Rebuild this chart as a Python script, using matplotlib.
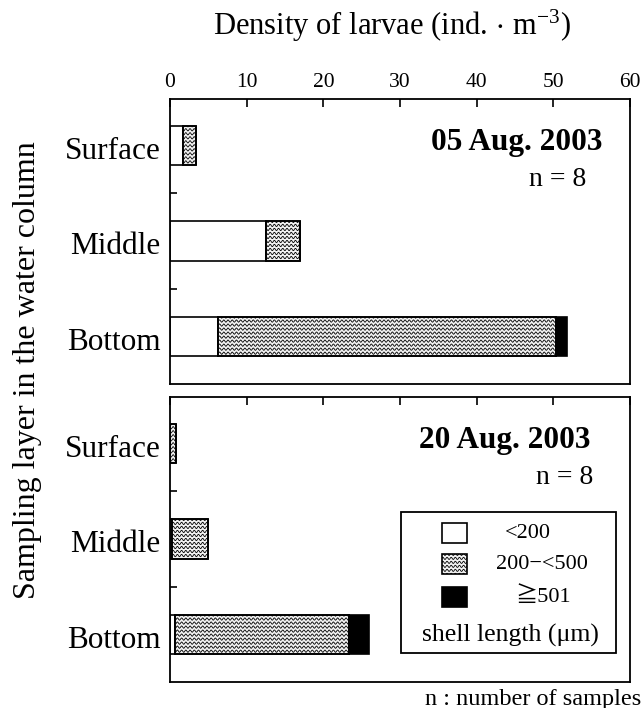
import numpy as np
import matplotlib.pyplot as plt
from matplotlib.patches import Rectangle

plt.rcParams['font.family'] = ['Liberation Serif', 'DejaVu Serif', 'Noto Sans CJK JP']
plt.rcParams['mathtext.fontset'] = 'stix'

layers = ['Surface', 'Middle', 'Bottom']
dates = ['05 Aug. 2003', '20 Aug. 2003']
n_samples = [8, 8]
size_classes = ['<200', '200\u2212<500', '\u2267501']

# densities (ind. m-3) per layer: <200, 200-<500, >=501
small = [[1.7, 12.5, 6.3], [0.0, 0.2, 0.7]]
medium = [[1.65, 4.4, 44.1], [0.75, 4.7, 22.6]]
large = [[0.0, 0.0, 1.4], [0.0, 0.0, 2.7]]

W, H = 643, 708
fig = plt.figure(figsize=(W / 100, H / 100), dpi=100)
axes = [fig.add_axes([170 / W, 1 - 383.5 / H, 460 / W, 285 / H]),
        fig.add_axes([170 / W, 1 - 681.5 / H, 460 / W, 285 / H])]

bar_h = 0.41


def wavy_fill(ax, patch, x0, x1, yc, h):
    # wave texture clipped to the bar
    lam = 0.55
    dy = 0.042
    amp = 0.012
    xs = np.linspace(x0, x1, max(int((x1 - x0) / lam * 12), 8))
    yk = yc - h / 2 - dy
    while yk < yc + h / 2 + dy:
        line, = ax.plot(xs, yk + amp * np.sin(2 * np.pi * xs / lam),
                        color='k', lw=0.6, zorder=2.5)
        line.set_clip_path(patch)
        yk += dy


date_x = [0.94, 0.915]
n_x = [0.905, 0.92]
for i, ax in enumerate(axes):
    y = np.arange(len(layers))
    s = np.array(small[i])
    m = np.array(medium[i])
    l = np.array(large[i])
    ax.barh(y, s, height=bar_h, color='white', edgecolor='k', lw=1.2, zorder=2)
    bars = ax.barh(y, m, left=s, height=bar_h, color='#f2f2f2', edgecolor='k',
                   lw=1.2, zorder=2)
    for j, b in enumerate(bars):
        if m[j] > 0:
            wavy_fill(ax, b, s[j], s[j] + m[j], y[j], bar_h)
            edge = Rectangle((s[j], y[j] - bar_h / 2), m[j], bar_h,
                             fill=False, edgecolor='k', lw=1.2, zorder=3)
            ax.add_patch(edge)
    ax.barh(y, l, left=s + m, height=bar_h, color='k', edgecolor='k', lw=1.2,
            zorder=3)

    ax.set_xlim(0, 60)
    ax.set_ylim(2.49, -0.49)
    ax.set_yticks([0.5, 1.5])
    ax.set_yticklabels([])
    ax.set_xticks(np.arange(0, 61, 10))
    ax.tick_params(axis='x', direction='in', top=True, bottom=False,
                   labeltop=(i == 0), labelbottom=False, length=6, width=1.2,
                   labelsize=15.5, pad=5)
    ax.tick_params(axis='y', direction='in', left=True, length=5, width=1.2)
    for sp in ax.spines.values():
        sp.set_linewidth(1.3)
    for j, name in enumerate(layers):
        ax.text(-0.02, j + 0.06, name, transform=ax.get_yaxis_transform(),
                ha='right', va='center', fontsize=22.5)
    ax.text(date_x[i], 0.845, dates[i], transform=ax.transAxes, ha='right',
            va='center', fontsize=22.5, fontweight='bold')
    ax.text(n_x[i], 0.715, 'n = %d' % n_samples[i], transform=ax.transAxes,
            ha='right', va='center', fontsize=20)

fig.text(392 / W, 1 - 26 / H,
         'Density of larvae (ind.$\\,\\cdot\\,$m$^{\\mathregular{-3}}$)',
         ha='center', va='center', fontsize=22)

# legend box in the lower panel
ax = axes[1]
ax.add_patch(Rectangle((0.503, 0.099), 0.466, 0.497, transform=ax.transAxes,
                       fill=False, edgecolor='k', lw=1.3, zorder=4))
ly = [0.521, 0.412, 0.295]
lx = [0.778, 0.808, 0.811]
cols = ['white', '#f2f2f2', 'k']
for k, lab in enumerate(size_classes):
    p = Rectangle((0.591, ly[k] - 0.035), 0.054, 0.07, transform=ax.transAxes,
                  facecolor=cols[k], edgecolor='k', lw=1.2, zorder=4)
    ax.add_patch(p)
    if k == 1:
        xs = np.linspace(0.591, 0.645, 40)
        yk = ly[k] - 0.05
        while yk < ly[k] + 0.05:
            line, = ax.plot(xs, yk + 0.004 * np.sin(2 * np.pi * (xs - 0.591) / 0.009),
                            transform=ax.transAxes, color='k', lw=0.6, zorder=4)
            line.set_clip_path(p)
            yk += 0.014
    ax.text(lx[k], ly[k], lab, transform=ax.transAxes, ha='center',
            va='center', fontsize=16, zorder=5)
ax.text(0.741, 0.163, 'shell length (\u03bcm)', transform=ax.transAxes,
        ha='center', va='center', fontsize=18.5, zorder=5)

fig.text(28 / W, 1 - 370 / H, 'Sampling layer in the water column',
         rotation=90, ha='center', va='center', fontsize=23)
fig.text(641 / W, 1 - 699 / H, 'n : number of samples', ha='right',
         va='center', fontsize=17.5)

fig.savefig('out.png', dpi=100)
